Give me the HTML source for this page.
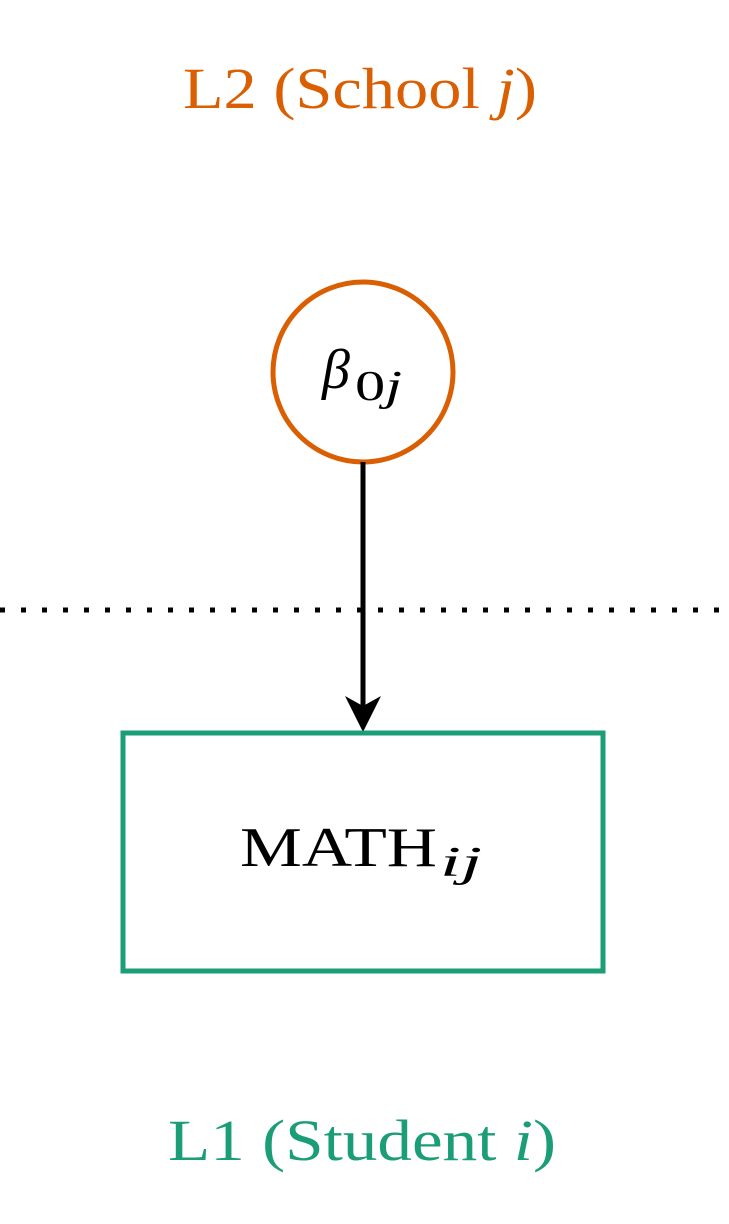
<!DOCTYPE html>
<html><head><meta charset="utf-8"><style>
html,body{margin:0;padding:0;background:#fff;width:729px;height:1224px;overflow:hidden}
</style></head><body>
<svg width="729" height="1224" viewBox="0 0 729 1224" xmlns="http://www.w3.org/2000/svg">
<text x="183" y="108" textLength="354" lengthAdjust="spacingAndGlyphs" font-family="Liberation Serif, serif" font-size="58" fill="#D95F02">L2 (School <tspan font-style="italic">j</tspan>)</text>
<circle cx="363" cy="372" r="90" fill="none" stroke="#D95F02" stroke-width="5"/>
<text x="322" y="388" font-family="Liberation Serif, serif" font-size="56" font-style="italic" fill="#000">β</text>
<text x="355" y="400" textLength="47" lengthAdjust="spacingAndGlyphs" font-family="Liberation Serif, serif" font-size="42" fill="#000">0<tspan font-style="italic">j</tspan></text>
<line x1="0" y1="610" x2="729" y2="610" stroke="#000" stroke-width="5" stroke-dasharray="5 16"/>
<line x1="363" y1="462" x2="363" y2="712" stroke="#000" stroke-width="5"/>
<polygon points="345,696 363,732 381,696 363,706" fill="#000"/>
<rect x="123" y="733" width="480" height="238" fill="none" stroke="#1B9E77" stroke-width="5"/>
<text x="240" y="866" textLength="197" lengthAdjust="spacingAndGlyphs" font-family="Liberation Serif, serif" font-size="56" fill="#000">MATH</text>
<text x="440" y="876" textLength="42" lengthAdjust="spacingAndGlyphs" font-family="Liberation Serif, serif" font-size="42" font-style="italic" fill="#000">ij</text>
<text x="168" y="1160" textLength="388" lengthAdjust="spacingAndGlyphs" font-family="Liberation Serif, serif" font-size="58" fill="#1B9E77">L1 (Student <tspan font-style="italic">i</tspan>)</text>
</svg>
</body></html>
